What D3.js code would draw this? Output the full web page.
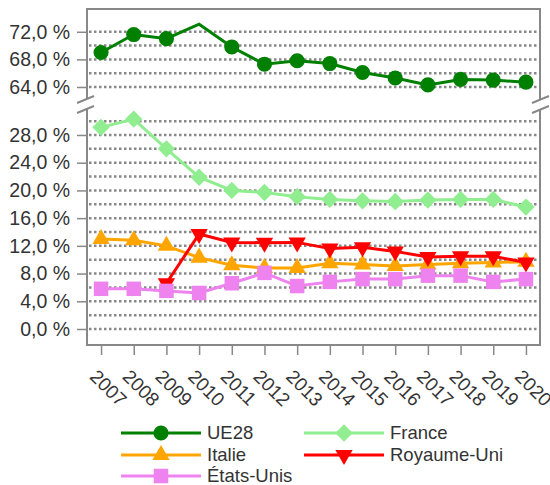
<!DOCTYPE html>
<html>
<head>
<meta charset="utf-8">
<script src="https://cdn.jsdelivr.net/npm/d3@7"></script>
<style>
  body { margin: 0; background: #fff; }
  text { font-family: "Liberation Sans", Arial, sans-serif; fill: #333; }
</style>
</head>
<body>
<div id="chart"></div>
<script>
// Data
var years = [2007, 2008, 2009, 2010, 2011, 2012, 2013, 2014, 2015, 2016, 2017, 2018, 2019, 2020];
var ue28 = [69.0, 71.6, 71.0, 73.1, 69.8, 67.3, 67.8, 67.4, 66.1, 65.3, 64.3, 65.1, 65.0, 64.7];
var france = [29.1, 30.3, 26.0, 21.9, 20.0, 19.7, 19.1, 18.7, 18.5, 18.4, 18.6, 18.7, 18.7, 17.6];
var italie = [13.0, 12.8, 12.0, 10.3, 9.2, 8.8, 8.8, 9.5, 9.3, 9.1, 9.3, 9.5, 9.6, 9.7];
var royaumeUni = [null, null, 6.6, 13.7, 12.5, 12.45, 12.5, 11.6, 11.8, 11.2, 10.4, 10.5, 10.5, 9.6];
var etatsUnis = [5.8, 5.8, 5.5, 5.2, 6.6, 8.1, 6.2, 6.8, 7.2, 7.2, 7.7, 7.7, 6.8, 7.2];
var topTicks = [64, 68, 72];
var topGrid = [64, 66, 68, 70, 72];
var bottomTicks = [0, 4, 8, 12, 16, 20, 24, 28];
var bottomGrid = [0, 2, 4, 6, 8, 10, 12, 14, 16, 18, 20, 22, 24, 26, 28, 30];
// UE28 has no marker drawn on 2010
var ue28NoMarker = [2010];

var series = [
    { name: "UE28", values: ue28, color: "#008000", symbol: "circle", size: 180, skip: ue28NoMarker },
    { name: "France", values: france, color: "#90EE90", symbol: "diamond", size: 150, skip: [] },
    { name: "Italie", values: italie, color: "#FFA500", symbol: "up", size: 130, skip: [] },
    { name: "Royaume-Uni", values: royaumeUni, color: "#FF0000", symbol: "down", size: 130, skip: [] },
    { name: "États-Unis", values: etatsUnis, color: "#EE82EE", symbol: "square", size: 210, skip: [] }
];

var width = 550, height = 485;
var left = 87, right = 540;
var topY0 = 9, topY1 = 99, botY0 = 109, botY1 = 345;

var svg = d3.select("#chart")
    .append("svg")
    .attr("width", width)
    .attr("height", height);

var x = d3.scalePoint()
    .domain(years)
    .range([left, right])
    .padding(0.43);

var yTop = d3.scaleLinear()
    .domain([62.26, 75.3])
    .range([topY1, topY0]);

var yBot = d3.scaleLinear()
    .domain([-2.31, 31.75])
    .range([botY1, botY0]);

function y(v) { return v > 45 ? yTop(v) : yBot(v); }

var fr = d3.formatLocale({ decimal: ",", thousands: " ", grouping: [3], currency: ["", " €"] });
var fmt = function (d) { return fr.format(".1f")(d) + " %"; };

// Gridlines
svg.append("g")
    .selectAll("line")
    .data(topGrid.map(yTop).concat(bottomGrid.map(yBot)))
    .enter()
    .append("line")
    .attr("x1", left + 2)
    .attr("x2", right)
    .attr("y1", function (d) { return d; })
    .attr("y2", function (d) { return d; })
    .style("stroke", "#888")
    .style("stroke-width", 2.5)
    .style("stroke-dasharray", "2.5,2.5");

// Y axes
var yAxisTop = svg.append("g")
    .attr("transform", "translate(" + left + ",0)")
    .call(d3.axisLeft(yTop).tickValues(topTicks).tickFormat(fmt).tickSize(10).tickPadding(7));
var yAxisBot = svg.append("g")
    .attr("transform", "translate(" + left + ",0)")
    .call(d3.axisLeft(yBot).tickValues(bottomTicks).tickFormat(fmt).tickSize(10).tickPadding(7));
[yAxisTop, yAxisBot].forEach(function (a) {
    a.select(".domain").remove();
    a.selectAll(".tick line").style("stroke", "#888").style("stroke-width", 1.5);
    a.selectAll(".tick text").style("font-size", "19.5px").style("fill", "#333");
});

// X axis
var xAxis = svg.append("g")
    .attr("transform", "translate(0," + botY1 + ")")
    .call(d3.axisBottom(x).tickSize(10).tickFormat(d3.format("d")));
xAxis.select(".domain").remove();
xAxis.selectAll(".tick line").style("stroke", "#888").style("stroke-width", 1.5);
xAxis.selectAll(".tick text")
    .style("font-size", "19px")
    .style("fill", "#333")
    .attr("text-anchor", "start")
    .attr("y", 0)
    .attr("dy", "0.35em")
    .attr("transform", "translate(-8,28) rotate(45)");

// Frame with break
var frame = svg.append("g")
    .style("stroke", "#888")
    .style("stroke-width", 2)
    .style("fill", "none");
frame.append("path")
    .attr("d", "M" + left + "," + topY1 + "V" + topY0 + "H" + right + "V" + topY1);
frame.append("path")
    .attr("d", "M" + left + "," + botY0 + "V" + botY1 + "H" + right + "V" + botY0);
[left - 10, right - 8].forEach(function (bx) {
    frame.append("line").attr("x1", bx).attr("y1", topY1 + 4).attr("x2", bx + 17).attr("y2", topY1 - 3);
    frame.append("line").attr("x1", bx).attr("y1", botY0 + 4).attr("x2", bx + 17).attr("y2", botY0 - 3);
});

// Marker shapes
function symbolPath(sym, size) {
    if (sym === "circle") return d3.symbol().type(d3.symbolCircle).size(size)();
    if (sym === "square" || sym === "diamond") return d3.symbol().type(d3.symbolSquare).size(size)();
    return d3.symbol().type(d3.symbolTriangle).size(size)();
}
function symbolRotate(sym) {
    if (sym === "down") return " rotate(180)";
    if (sym === "diamond") return " rotate(45)";
    return "";
}

// Series
series.forEach(function (s) {
    var pts = years.map(function (yr, i) { return { year: yr, v: s.values[i] }; })
        .filter(function (d) { return d.v != null; });
    var line = d3.line()
        .x(function (d) { return x(d.year); })
        .y(function (d) { return y(d.v); });
    var g = svg.append("g");
    g.append("path")
        .datum(pts)
        .attr("d", line)
        .style("fill", "none")
        .style("stroke", s.color)
        .style("stroke-width", 3);
    g.selectAll("path.mk")
        .data(pts.filter(function (d) { return s.skip.indexOf(d.year) < 0; }))
        .enter()
        .append("path")
        .attr("class", "mk")
        .attr("d", symbolPath(s.symbol, s.size))
        .attr("transform", function (d) {
            return "translate(" + x(d.year) + "," + y(d.v) + ")" + symbolRotate(s.symbol);
        })
        .style("fill", s.color);
});

// Legend
var legendPos = [
    { x: 121, y: 433 }, { x: 304, y: 433 },
    { x: 121, y: 455 }, { x: 304, y: 455 },
    { x: 121, y: 476 }
];
series.forEach(function (s, i) {
    var p = legendPos[i];
    var g = svg.append("g").attr("transform", "translate(" + p.x + "," + p.y + ")");
    g.append("line")
        .attr("x1", 0).attr("x2", 80)
        .style("stroke", s.color)
        .style("stroke-width", 3);
    g.append("path")
        .attr("d", symbolPath(s.symbol, s.size))
        .attr("transform", "translate(40,0)" + symbolRotate(s.symbol))
        .style("fill", s.color);
    g.append("text")
        .attr("x", 86)
        .attr("dy", "0.35em")
        .style("font-size", "18.5px")
        .text(s.name);
});
</script>
</body>
</html>
